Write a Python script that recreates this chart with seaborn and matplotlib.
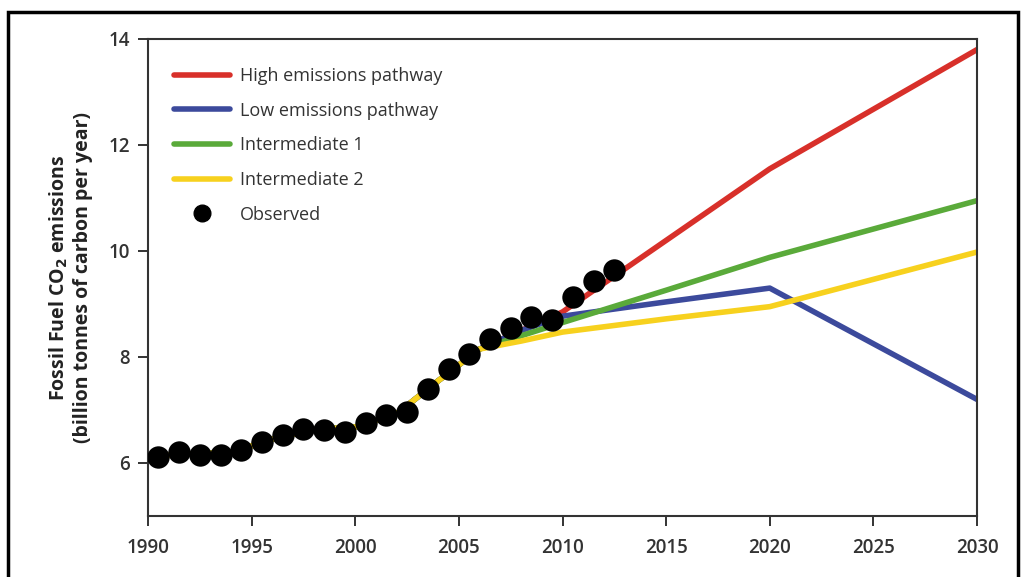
import matplotlib
matplotlib.use("Agg")
import matplotlib.pyplot as plt
import seaborn as sns
import pandas as pd
from matplotlib.patches import Rectangle
from matplotlib.lines import Line2D

# ---- data ----
obs_years = [1990.5, 1991.5, 1992.5, 1993.5, 1994.5, 1995.5, 1996.5, 1997.5, 1998.5, 1999.5,
             2000.5, 2001.5, 2002.5, 2003.5, 2004.5, 2005.5, 2006.5, 2007.5, 2008.5, 2009.5,
             2010.5, 2011.5, 2012.5]
obs_values = [6.12, 6.21, 6.15, 6.16, 6.25, 6.39, 6.53, 6.64, 6.63, 6.59,
              6.75, 6.91, 6.97, 7.39, 7.78, 8.06, 8.34, 8.55, 8.76, 8.70,
              9.13, 9.43, 9.64]

hist_years = [1990, 1992, 1994, 1996, 1998, 2000, 2002, 2004, 2006]
hist_values = [6.12, 6.17, 6.2, 6.45, 6.63, 6.68, 6.93, 7.55, 8.15]

high_years = [2008, 2010, 2020, 2030]
high_values = [8.5, 8.85, 11.55, 13.8]
low_years = [2008, 2010, 2015, 2020, 2030]
low_values = [8.5, 8.77, 9.04, 9.3, 7.2]
int1_years = [2008, 2010, 2015, 2020, 2030]
int1_values = [8.4, 8.65, 9.26, 9.88, 10.95]
int2_years = [2008, 2010, 2015, 2020, 2030]
int2_values = [8.3, 8.47, 8.72, 8.95, 9.98]

names = ["High emissions pathway", "Low emissions pathway", "Intermediate 1", "Intermediate 2"]
colors = ["#d8302a", "#3c4a9c", "#5aaa3a", "#f7d11e"]

x_ticks = [1990, 1995, 2000, 2005, 2010, 2015, 2020, 2025, 2030]
y_ticks = [6, 8, 10, 12, 14]

rows = []
for name, yrs, vals in zip(names, [high_years, low_years, int1_years, int2_years],
                           [high_values, low_values, int1_values, int2_values]):
    for y, v in zip(hist_years + yrs, hist_values + vals):
        rows.append({"year": y, "value": v, "scenario": name})
df = pd.DataFrame(rows)
obs = pd.DataFrame({"year": obs_years, "value": obs_values})

sns.set_theme(style="white")
plt.rcParams["font.family"] = ["Open Sans", "DejaVu Sans"]

fig = plt.figure(figsize=(10.21, 5.77), dpi=100)
ax = fig.add_axes([148/1021, 1-516/577, (977-148)/1021, (516-39)/577])

sns.lineplot(data=df, x="year", y="value", hue="scenario", hue_order=names,
             palette=dict(zip(names, colors)), linewidth=4, ax=ax, sort=False,
             estimator=None, legend=False)
sns.scatterplot(data=obs, x="year", y="value", color="black", s=260, linewidth=0,
                ax=ax, zorder=5, legend=False)

ax.set_xlim(1990, 2030)
ax.set_ylim(5, 14)
ax.set_xticks(x_ticks)
ax.set_yticks(y_ticks)
ax.tick_params(axis="both", direction="out", length=7, width=1.4, color="#333333",
               labelsize=13.5, labelcolor="#333333", left=True, bottom=True)
ax.tick_params(axis="x", pad=9)
ax.tick_params(axis="y", pad=6)
for t in ax.get_xticklabels() + ax.get_yticklabels():
    t.set_fontweight("semibold")
for s in ax.spines.values():
    s.set_color("#333333")
    s.set_linewidth(1.5)
ax.set_xlabel("")
ax.set_ylabel("Fossil Fuel CO$_\\mathbf{2}$ emissions\n(billion tonnes of carbon per year)",
              fontsize=14, fontweight="bold", color="#222222", labelpad=11, linespacing=1.2)

handles = [Line2D([0], [0], color=c, lw=4) for c in colors]
handles.append(Line2D([0], [0], marker="o", color="black", lw=0, markersize=12))
leg = ax.legend(handles, names + ["Observed"], loc="upper left", frameon=False,
                fontsize=13, handlelength=3.1, handletextpad=0.55, labelspacing=0.92,
                bbox_to_anchor=(0.012, 0.975))
for t in leg.get_texts():
    t.set_color("#333333")

fig.patches.append(Rectangle((8/1021, -0.1), (1018-8)/1021, 1.1 - 12/577,
                             transform=fig.transFigure, fill=False,
                             edgecolor="black", linewidth=2.5))

fig.savefig("out.png", dpi=100)
